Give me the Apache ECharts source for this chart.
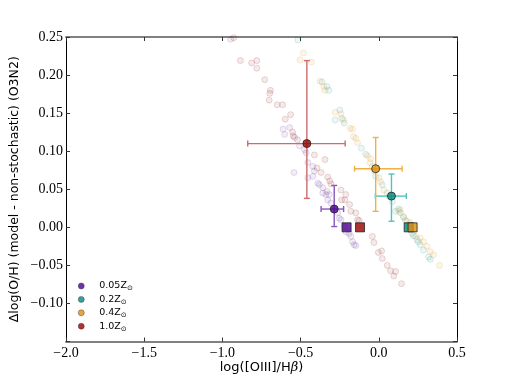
<!DOCTYPE html>
<html>
<head>
<meta charset="utf-8">
<script src="https://cdn.jsdelivr.net/npm/echarts@6/dist/echarts.min.js"></script>
<style>
  html, body { margin: 0; padding: 0; background: #fff; }
  #chart { width: 507px; height: 380px; }
</style>
</head>
<body>
<div id="chart"></div>
<script>
// metallicity labels and colours
var labels = ['0.05Z', '0.2Z', '0.4Z', '1.0Z'];
var colors = ['#4b0090', '#008b82', '#e0900e', '#990000'];
var barColors = ['#8558bd', '#52c2bd', '#f0b045', '#cd6b6b'];
var faintFill = ['rgba(75,0,130,0.09)', 'rgba(0,139,130,0.09)', 'rgba(224,144,14,0.11)', 'rgba(139,0,0,0.1)'];
var faintEdge = ['rgba(75,0,130,0.16)', 'rgba(0,139,130,0.18)', 'rgba(224,144,14,0.2)', 'rgba(139,0,0,0.18)'];

// stochastic models, one list per metallicity: [log(OIII/Hb), dlog(O/H)]
var pts005 = [[-0.947,0.247],[-0.612,0.129],[-0.602,0.122],[-0.570,0.131],[-0.539,0.118],[-0.507,0.107],
  [-0.475,0.102],[-0.464,0.098],[-0.454,0.085],[-0.542,0.072],[-0.422,0.080],[-0.412,0.074],[-0.454,0.065],
  [-0.422,0.067],[-0.390,0.058],[-0.380,0.056],[-0.358,0.052],[-0.358,0.045],[-0.331,0.047],[-0.317,0.043],
  [-0.327,0.036],[-0.306,0.032],[-0.338,0.043],[-0.263,0.019],[-0.253,0.012],[-0.242,0.010],[-0.221,0.001],
  [-0.211,-0.006],[-0.190,-0.008],[-0.179,-0.012],[-0.168,-0.019],[-0.158,-0.023],[-0.147,-0.024]];
var pts02 = [[-0.517,0.246],[-0.363,0.191],[-0.331,0.185],[-0.320,0.180],[-0.249,0.154],[-0.279,0.141],
  [-0.236,0.143],[-0.221,0.137],[-0.111,0.104],[-0.084,0.096],[-0.041,0.080],[-0.020,0.067],[0.022,0.056],
  [0.054,0.045],[0.086,0.034],[0.107,0.021],[0.138,0.019],[0.170,0.009],[0.189,0.002],[0.213,-0.008],
  [0.244,-0.016],[0.265,-0.023],[0.286,-0.030],[0.318,-0.039],[0.329,-0.042],[0.126,0.024],[0.157,0.014],
  [0.221,-0.011],[0.252,-0.019]];
var pts04 = [[-0.482,0.229],[-0.503,0.220],[-0.431,0.217],[-0.376,0.192],[-0.352,0.185],[-0.344,0.180],
  [-0.279,0.151],[-0.242,0.149],[-0.225,0.141],[-0.183,0.130],[-0.168,0.129],[-0.162,0.119],[-0.147,0.117],
  [-0.136,0.111],[-0.073,0.094],[-0.052,0.090],[-0.056,0.085],[-0.031,0.074],[0.001,0.065],[0.011,0.060],
  [0.032,0.049],[0.064,0.041],[0.128,0.021],[0.138,0.023],[0.159,0.013],[0.181,0.008],[0.202,0.006],
  [0.234,-0.012],[0.265,-0.014],[0.286,-0.019],[0.308,-0.025],[0.329,-0.032],[0.350,-0.036],[0.388,-0.050]];
var pts10 = [[-0.928,0.249],[-0.885,0.219],[-0.813,0.216],[-0.780,0.219],[-0.780,0.209],[-0.729,0.194],
  [-0.693,0.180],[-0.697,0.176],[-0.701,0.167],[-0.650,0.161],[-0.615,0.161],[-0.564,0.148],[-0.598,0.142],
  [-0.551,0.125],[-0.547,0.120],[-0.520,0.115],[-0.412,0.095],[-0.344,0.089],[-0.395,0.078],[-0.369,0.072],
  [-0.327,0.066],[-0.314,0.061],[-0.306,0.057],[-0.242,0.049],[-0.211,0.043],[-0.217,0.036],[-0.238,0.036],
  [-0.187,0.030],[-0.179,0.021],[-0.147,0.019],[-0.136,0.010],[-0.126,0.009],[-0.041,-0.012],[-0.031,-0.020],
  [-0.003,-0.033],[0.018,-0.031],[0.022,-0.041],[0.054,-0.050],[0.075,-0.057],[0.107,-0.058],[0.096,-0.064],
  [0.145,-0.074]];
var faint = [pts005, pts02, pts04, pts10];

// medians with error ranges
var medX   = [-0.285, 0.081, -0.020, -0.460];
var medY   = [0.024, 0.041, 0.077, 0.110];
var medXlo = [-0.369, -0.022, -0.155, -0.838];
var medXhi = [-0.225, 0.176, 0.149, -0.215];
var medYlo = [0.001, 0.008, 0.021, 0.038];
var medYhi = [0.055, 0.070, 0.118, 0.219];

// non-stochastic models
var nsX = [-0.206, 0.191, 0.216, -0.120];
var nsY = [0, 0, 0, 0];

var xTicks = { min: -2.0, max: 0.5, interval: 0.5 };
var yTicks = { min: -0.15, max: 0.25, interval: 0.05 };

var myChart = echarts.init(document.getElementById('chart'));

function minus(s) { return s.replace('-', '\u2212'); }

var series = [];
faint.forEach(function (d, i) {
  series.push({
    name: 'f' + i,
    type: 'scatter',
    data: d,
    symbolSize: 6,
    itemStyle: { color: faintFill[i], borderColor: faintEdge[i], borderWidth: 1 },
    z: 2
  });
});

var errData = medX.map(function (x, i) {
  return [x, medY[i], medXlo[i], medXhi[i], medYlo[i], medYhi[i]];
});
series.push({
  type: 'custom',
  data: errData,
  z: 3,
  renderItem: function (params, api) {
    var c = api.coord([api.value(0), api.value(1)]);
    var l = api.coord([api.value(2), api.value(1)]);
    var r = api.coord([api.value(3), api.value(1)]);
    var b = api.coord([api.value(0), api.value(4)]);
    var t = api.coord([api.value(0), api.value(5)]);
    var st = { stroke: barColors[params.dataIndex], lineWidth: 1.4 };
    var cap = 3;
    function ln(x1, y1, x2, y2) {
      return { type: 'line', shape: { x1: x1, y1: y1, x2: x2, y2: y2 }, style: st };
    }
    return {
      type: 'group',
      children: [
        ln(l[0], c[1], r[0], c[1]),
        ln(c[0], t[1], c[0], b[1]),
        ln(l[0], c[1] - cap, l[0], c[1] + cap),
        ln(r[0], c[1] - cap, r[0], c[1] + cap),
        ln(c[0] - cap, t[1], c[0] + cap, t[1]),
        ln(c[0] - cap, b[1], c[0] + cap, b[1])
      ]
    };
  }
});

labels.forEach(function (name, i) {
  series.push({
    name: name,
    type: 'scatter',
    data: [[medX[i], medY[i]]],
    symbol: 'circle',
    symbolSize: 8,
    itemStyle: { color: colors[i], borderColor: '#222', borderWidth: 1 },
    z: 4
  });
});

labels.forEach(function (name, i) {
  series.push({
    name: 'ns' + i,
    type: 'scatter',
    data: [[nsX[i], nsY[i]]],
    symbol: 'rect',
    symbolSize: 9,
    itemStyle: { color: colors[i], borderColor: '#222', borderWidth: 1 },
    z: 5
  });
});

var tickFont = { fontFamily: 'Liberation Serif', fontSize: 14, color: '#000' };
var lineH = { color: '#808080', width: 2 };
var lineV = { color: '#000', width: 1 };
var tickStyle = { show: true, inside: true, length: 4, lineStyle: { color: '#333' } };

var option = {
  animation: false,
  backgroundColor: '#fff',
  grid: { left: 63, right: 50, top: 37, bottom: 38.5 },
  legend: {
    data: labels,
    orient: 'vertical',
    left: 73,
    top: 276,
    icon: 'circle',
    itemWidth: 26,
    itemHeight: 6,
    itemGap: 2.4,
    itemStyle: { borderWidth: 0.5, borderColor: '#333' },
    formatter: function (n) { return '{a|' + n + '}{s|\u2299}'; },
    textStyle: {
      rich: {
        a: { fontFamily: 'DejaVu Sans', fontSize: 9.5, color: '#000', lineHeight: 12 },
        s: { fontFamily: 'DejaVu Sans', fontSize: 7, color: '#000', lineHeight: 12, verticalAlign: 'bottom', padding: [4, 0, 0, 0] }
      }
    }
  },
  xAxis: [{
    type: 'value', position: 'bottom',
    min: xTicks.min, max: xTicks.max, interval: xTicks.interval,
    axisLine: { show: true, onZero: false, lineStyle: lineH },
    axisTick: tickStyle,
    splitLine: { show: false },
    axisLabel: Object.assign({ margin: 5, formatter: function (v) { return minus(v.toFixed(1)); } }, tickFont),
    name: '{a|log([OIII]/H}{b|\u03b2}{a|)}',
    nameLocation: 'middle',
    nameGap: 20,
    nameMoveOverlap: false,
    nameTextStyle: {
      rich: {
        a: { fontFamily: 'DejaVu Sans', fontSize: 13, color: '#000' },
        b: { fontFamily: 'DejaVu Serif', fontStyle: 'italic', fontSize: 13, color: '#000' }
      }
    }
  }, {
    type: 'value', position: 'top',
    min: xTicks.min, max: xTicks.max, interval: xTicks.interval,
    axisLine: { show: true, onZero: false, lineStyle: lineH },
    axisTick: tickStyle,
    splitLine: { show: false },
    axisLabel: { show: false }
  }],
  yAxis: [{
    type: 'value', position: 'left',
    min: yTicks.min, max: yTicks.max, interval: yTicks.interval,
    axisLine: { show: true, onZero: false, lineStyle: lineV },
    axisTick: tickStyle,
    splitLine: { show: false },
    axisLabel: Object.assign({
      margin: 3,
      formatter: function (v) { return v < -0.14 ? '' : minus(v.toFixed(2)); }
    }, tickFont),
    name: '\u0394log(O/H) (model - non-stochastic) (O3N2)',
    nameLocation: 'middle',
    nameGap: 45,
    nameMoveOverlap: false,
    nameTextStyle: { fontFamily: 'DejaVu Sans', fontSize: 12.5, color: '#000' }
  }, {
    type: 'value', position: 'right',
    min: yTicks.min, max: yTicks.max, interval: yTicks.interval,
    axisLine: { show: true, onZero: false, lineStyle: lineV },
    axisTick: tickStyle,
    splitLine: { show: false },
    axisLabel: { show: false }
  }],
  series: series
};

myChart.setOption(option);
</script>
</body>
</html>
